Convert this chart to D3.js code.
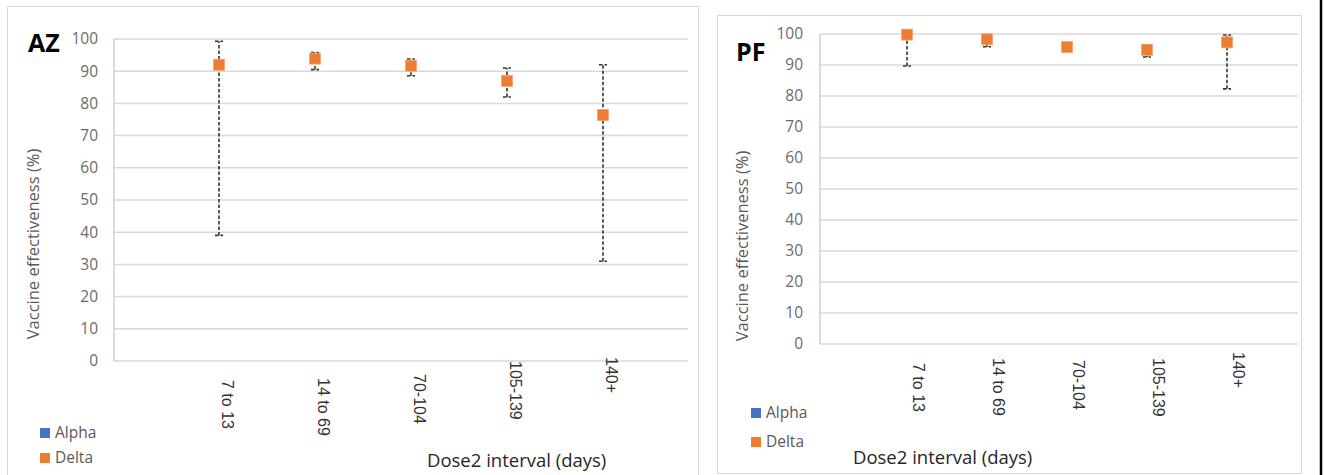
<!DOCTYPE html>
<html>
<head>
<meta charset="utf-8">
<script src="https://cdn.jsdelivr.net/npm/d3@7"></script>
<style>
  html, body { margin: 0; padding: 0; background: #fff; }
  svg { display: block; }
</style>
</head>
<body>
<svg id="chart" width="1324" height="475"></svg>
<script>
// ---------- data ----------
const categories = ["7 to 13", "14 to 69", "70-104", "105-139", "140+"];
const seriesNames = ["Alpha", "Delta"];
const seriesColors = ["#4472C4", "#ED7D31"];
const yTicks = [0, 10, 20, 30, 40, 50, 60, 70, 80, 90, 100];

// AZ panel (Delta series; Alpha has no points)
const azDelta = [92.0, 93.9, 91.7, 87.0, 76.4];
const azLower = [39.0, 90.5, 88.6, 82.0, 31.0];
const azUpper = [99.3, 95.8, 93.8, 91.0, 92.0];

// PF panel
const pfDelta = [99.8, 98.3, 95.8, 94.9, 97.3];
const pfLower = [89.7, 95.9, 94.6, 92.6, 82.3];
const pfUpper = [100.0, 99.6, 97.0, 96.5, 99.7];

// ---------- layout ----------
const panels = [
  {
    title: "AZ", values: azDelta, lower: azLower, upper: azUpper,
    box: [7, 6, 698, 480],
    xRange: [219, 603], plotX: [114, 688], yRange: [361, 39],
    titlePos: [28, 52], yTickRight: 98, yTitlePos: [33, 244],
    xTitlePos: [427, 467], labelDx: 9, labelTop: [380, 378, 374, 361, 357],
    legend: { x: 40, y: [428, 453], textX: 55 }
  },
  {
    title: "PF", values: pfDelta, lower: pfLower, upper: pfUpper,
    box: [717, 15, 1301, 473],
    xRange: [907, 1227], plotX: [820, 1298], yRange: [344, 34],
    titlePos: [736, 61], yTickRight: 803, yTitlePos: [742, 246],
    xTitlePos: [853, 464], labelDx: 12, labelTop: [363, 358, 360, 358, 352],
    legend: { x: 751, y: [408, 437], textX: 766 }
  }
];

const svg = d3.select("#chart");
const tickFont = "'Open Sans', 'DejaVu Sans', sans-serif";

panels.forEach(p => {
  const g = svg.append("g");
  // panel border
  g.append("rect")
    .attr("x", p.box[0] + 0.5).attr("y", p.box[1] + 0.5)
    .attr("width", p.box[2] - p.box[0]).attr("height", p.box[3] - p.box[1])
    .attr("fill", "#fff").attr("stroke", "#d9d9d9").attr("stroke-width", 1);

  const x = d3.scalePoint().domain(categories).range(p.xRange);
  const y = d3.scaleLinear().domain([0, 100]).range(p.yRange);

  // gridlines
  g.append("g").selectAll("line").data(yTicks).join("line")
    .attr("x1", p.plotX[0]).attr("x2", p.plotX[1])
    .attr("y1", d => y(d)).attr("y2", d => y(d))
    .attr("stroke", "#d9d9d9").attr("stroke-width", 1.5);

  // y axis line
  g.append("line")
    .attr("x1", p.plotX[0]).attr("x2", p.plotX[0])
    .attr("y1", y(0)).attr("y2", y(100))
    .attr("stroke", "#d0d0d0").attr("stroke-width", 1.5);

  // y tick labels
  g.append("g").selectAll("text").data(yTicks).join("text")
    .attr("x", p.yTickRight).attr("y", d => y(d))
    .attr("dy", "0.35em").attr("text-anchor", "end")
    .attr("font-family", tickFont).attr("font-size", 15.5)
    .attr("fill", "#6b6b6b").text(d => d);

  // x tick labels (rotated)
  g.append("g").selectAll("text").data(categories).join("text")
    .attr("transform", (d, i) => `translate(${x(d) + p.labelDx},${p.labelTop[i]}) rotate(90)`)
    .attr("dy", "0.35em").attr("text-anchor", "start")
    .attr("font-family", "'Liberation Sans', Arial, sans-serif").attr("font-size", 16)
    .attr("fill", "#333").text(d => d);

  // error bars
  const eb = g.append("g").attr("stroke", "#333").attr("stroke-width", 1.6)
    .attr("stroke-dasharray", "3.5,2");
  categories.forEach((c, i) => {
    eb.append("line")
      .attr("x1", x(c)).attr("x2", x(c))
      .attr("y1", y(p.lower[i])).attr("y2", y(p.upper[i]));
    [p.lower[i], p.upper[i]].forEach(v => {
      eb.append("line")
        .attr("x1", x(c) - 4).attr("x2", x(c) + 4)
        .attr("y1", y(v)).attr("y2", y(v));
    });
  });

  // markers (Delta)
  g.append("g").selectAll("rect").data(p.values).join("rect")
    .attr("x", (d, i) => x(categories[i]) - 5.5)
    .attr("y", d => y(d) - 5.5)
    .attr("width", 11).attr("height", 11)
    .attr("fill", seriesColors[1])
    .attr("stroke", "#f4a571").attr("stroke-width", 0.8);

  // title
  g.append("text").attr("x", p.titlePos[0]).attr("y", p.titlePos[1])
    .attr("font-family", "'Open Sans', sans-serif").attr("font-weight", "bold")
    .attr("font-size", 25).attr("fill", "#000").text(p.title);

  // y axis title
  g.append("text")
    .attr("transform", `translate(${p.yTitlePos[0]},${p.yTitlePos[1]}) rotate(-90)`)
    .attr("text-anchor", "middle").attr("dy", "0.35em")
    .attr("font-family", tickFont).attr("font-size", 16.5)
    .attr("fill", "#595959").text("Vaccine effectiveness (%)");

  // x axis title
  g.append("text").attr("x", p.xTitlePos[0]).attr("y", p.xTitlePos[1])
    .attr("font-family", tickFont).attr("font-size", 18.5)
    .attr("fill", "#262626").text("Dose2 interval (days)");

  // legend
  seriesNames.forEach((s, i) => {
    g.append("rect").attr("x", p.legend.x).attr("y", p.legend.y[i])
      .attr("width", 10).attr("height", 10).attr("fill", seriesColors[i]);
    g.append("text").attr("x", p.legend.textX).attr("y", p.legend.y[i] + 10)
      .attr("font-family", tickFont).attr("font-size", 15.5)
      .attr("fill", "#595959").text(s);
  });
});

// right-edge black frame line
svg.append("line").attr("x1", 1321).attr("x2", 1321).attr("y1", 0).attr("y2", 475)
  .attr("stroke", "#000").attr("stroke-width", 2.5);
</script>
</body>
</html>
